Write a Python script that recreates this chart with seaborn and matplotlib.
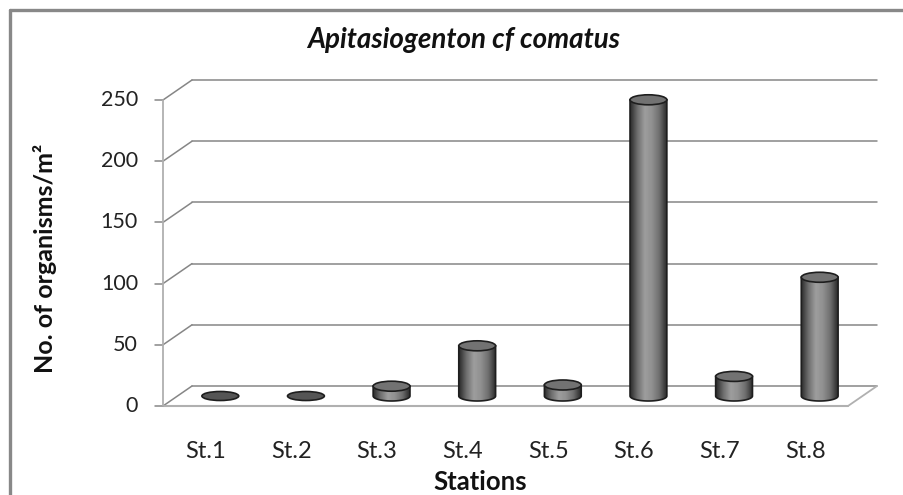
import matplotlib
matplotlib.use("Agg")
import matplotlib.pyplot as plt
from matplotlib.patches import Ellipse, Polygon
from matplotlib.colors import LinearSegmentedColormap
import numpy as np
import pandas as pd
import seaborn as sns

stations = ["St.1", "St.2", "St.3", "St.4", "St.5", "St.6", "St.7", "St.8"]
organisms = [0, 0, 8, 41, 9, 242, 16, 97]
y_ticks = [0, 50, 100, 150, 200, 250]
title = "Apitasiogenton cf comatus"
x_label = "Stations"
y_label = "No. of organisms/m²"

W, H = 904, 495
# mid-depth plane where the cylinders stand (pixels)
x0_px, slot_px = 177.5, 85.625
y0_px, unit_px = 396, 1.224
dx, dy = 14.5 / slot_px, 10 / unit_px      # half depth of the 3d box, data units
ell_h = 10 / unit_px                        # cylinder cap height, data units

sns.set_style("white")
plt.rcParams['font.family'] = ['Lato', 'DejaVu Sans']

fig = plt.figure(figsize=(W / 100, H / 100), dpi=100)
xlim = (-0.9, 7.75)
ylim = (-20, 262)
left = x0_px + (xlim[0] + 0.5) * slot_px
right = x0_px + (xlim[1] + 0.5) * slot_px
bot = y0_px - ylim[0] * unit_px
top = y0_px - ylim[1] * unit_px
ax = fig.add_axes([left / W, 1 - bot / H, (right - left) / W, (bot - top) / H])

df = pd.DataFrame({"station": stations, "count": organisms})
sns.barplot(data=df, x="station", y="count", color="#808080", saturation=1,
            width=0.43, linewidth=0, ax=ax, zorder=2)

grid_c = "#868686"
light_c = "#b0b0b0"
n = len(stations)

# back wall gridlines, left side diagonals, ticks
for v in y_ticks:
    ax.plot([-0.5 + dx, n - 0.5 + dx], [v + dy, v + dy], color=grid_c, lw=1.1, zorder=1, clip_on=False)
    ax.plot([-0.5 - dx, -0.5 + dx], [v - dy, v + dy], color=grid_c, lw=1.1, zorder=1, clip_on=False)
    ax.plot([-0.5 - dx - 8 / slot_px, -0.5 - dx], [v - dy, v - dy], color=grid_c, lw=1.1, clip_on=False)
    ax.text(-0.5 - dx - 25 / slot_px, v - dy, str(v), ha="right", va="center",
            fontsize=15.5, color="#222222")

# front axis and floor
ax.plot([-0.5 - dx, -0.5 - dx], [y_ticks[0] - dy, y_ticks[-1] - dy], color=light_c, lw=1.3, clip_on=False)
ax.plot([-0.5 - dx, n - 0.5 - dx], [-dy, -dy], color=light_c, lw=1.5, zorder=1, clip_on=False)
ax.plot([n - 0.5 - dx, n - 0.5 + dx], [-dy, dy], color=light_c, lw=1.3, zorder=1, clip_on=False)

for i, s in enumerate(stations):
    ax.text(i - dx, (y0_px - 451) / unit_px, s, ha="center", va="center",
            fontsize=17, color="#222222")

# turn the flat bars into shaded cylinders
cmap = LinearSegmentedColormap.from_list(
    "cyl", ["#2a2a2a", "#6e6e6e", "#9e9e9e", "#909090", "#6e6e6e", "#2a2a2a"])
grad = np.linspace(0, 1, 128)[None, :]
theta = np.linspace(np.pi, 2 * np.pi, 60)
for bar in ax.patches[:n]:
    xb, w, h = bar.get_x(), bar.get_width(), bar.get_height()
    xc = xb + w / 2
    if h > 0:
        arc = np.column_stack([xc + w / 2 * np.cos(theta), ell_h / 2 * np.sin(theta)])
        pts = np.vstack([[xb, h], arc, [xb + w, h]])
        body = Polygon(pts, closed=True, facecolor="none", edgecolor="#1e1e1e",
                       lw=1.2, zorder=4, clip_on=False)
        ax.add_patch(body)
        im = ax.imshow(grad, extent=(xb, xb + w, -ell_h / 2, h), cmap=cmap,
                       aspect="auto", zorder=3, interpolation="bicubic")
        im.set_clip_path(body)
        cap = Ellipse((xc, h), w, ell_h, facecolor="#727272", edgecolor="#1e1e1e",
                      lw=1.2, zorder=5, clip_on=False)
    else:
        cap = Ellipse((xc, h), w, ell_h * 0.9, facecolor="#555555", edgecolor="#1e1e1e",
                      lw=1.2, zorder=5, clip_on=False)
    ax.add_patch(cap)
    bar.set_visible(False)

ax.set_xlim(*xlim)
ax.set_ylim(*ylim)
ax.axis("off")

fig.text(464 / W, 1 - 40 / H, title, ha="center", va="center", fontsize=20,
         style="italic", weight="bold", color="#111111")
fig.text(480 / W, 1 - 482 / H, x_label, ha="center", va="center", fontsize=18.5,
         weight="bold", color="#111111")
fig.text(45 / W, 1 - 258 / H, y_label, ha="center", va="center", fontsize=18,
         weight="bold", rotation=90, color="#111111")

# outer chart frame: only top and left edges are inside the picture
fx, fy = 9.5 / W, 1 - 9.5 / H
frame = fig.add_axes([0, 0, 1, 1], zorder=-1)
frame.plot([fx, 1.02], [fy, fy], color="#888888", lw=2.4, clip_on=False)
frame.plot([fx, fx], [-0.02, fy], color="#888888", lw=2.4, clip_on=False)
frame.set_xlim(0, 1)
frame.set_ylim(0, 1)
frame.axis("off")

fig.savefig("out.png", dpi=100)
